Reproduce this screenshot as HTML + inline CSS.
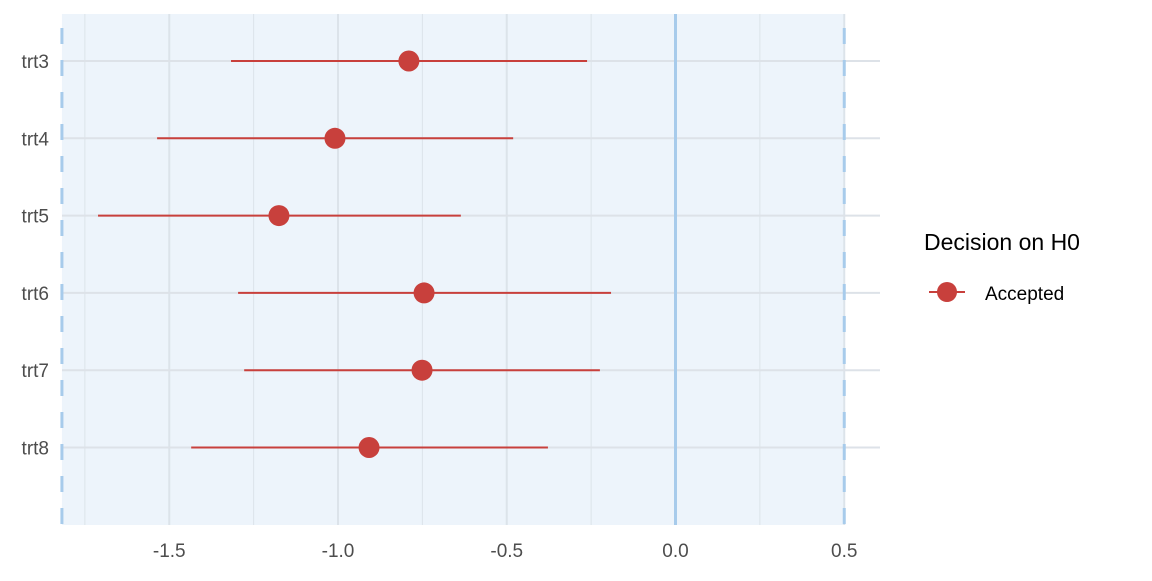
<!DOCTYPE html>
<html><head><meta charset="utf-8"><style>
body{margin:0;background:#fff;font-family:"Liberation Sans",Arial,sans-serif;}
</style></head><body>
<svg id="chart" width="1152" height="576" xmlns="http://www.w3.org/2000/svg">
<g id="grid"></g>
<g id="marks"></g>
<g id="axes"></g>
<g>
<text x="924" y="250" font-size="23" fill="#000">Decision on H0</text>
<line x1="929" y1="292" x2="965" y2="292" stroke="#C8403C" stroke-width="2"/>
<circle cx="947" cy="292" r="10" fill="#C8403C"/>
<text x="985" y="300" font-size="19" fill="#000">Accepted</text>
</g>
</svg>
<script>
const categories=["trt3","trt4","trt5","trt6","trt7","trt8"];
const estimates=[-0.79,-1.009,-1.175,-0.745,-0.751,-0.908];
const lower=[-1.317,-1.536,-1.711,-1.296,-1.278,-1.435];
const upper=[-0.262,-0.481,-0.636,-0.191,-0.224,-0.378];
const xTicks=[-1.5,-1.0,-0.5,0.0,0.5];
const xTickLabels=["-1.5","-1.0","-0.5","0.0","0.5"];
const xMinor=[-1.75,-1.25,-0.75,-0.25,0.25];
const bounds=[-1.818,0.5];

const NS="http://www.w3.org/2000/svg";
const X=v=>675.5+v*337.5;
const Y=i=>61+i*77.3;
function mk(parent,tag,attrs){const e=document.createElementNS(NS,tag);for(const k in attrs)e.setAttribute(k,attrs[k]);document.getElementById(parent).appendChild(e);return e;}
let e;
e=mk("grid","rect",{x:X(bounds[0]),y:14,width:X(bounds[1])-X(bounds[0]),height:511,fill:"#EDF4FB"});


xMinor.forEach(v=>{e=mk("grid","line",{x1:X(v),x2:X(v),y1:14,y2:525,stroke:"#DCE3EA","stroke-width":1});

});
xTicks.forEach(v=>{e=mk("grid","line",{x1:X(v),x2:X(v),y1:14,y2:525,stroke:"#DCE3EA","stroke-width":2});

});
categories.forEach((c,i)=>{e=mk("grid","line",{x1:62,x2:880,y1:Y(i),y2:Y(i),stroke:"#DDE2E8","stroke-width":2});

});
e=mk("grid","line",{x1:X(0),x2:X(0),y1:14,y2:525,stroke:"#A7CBEB","stroke-width":3});


bounds.forEach(v=>{e=mk("grid","line",{x1:X(v),x2:X(v),y1:14,y2:525,stroke:"#A7CBEB","stroke-width":3,"stroke-dasharray":"16,16","stroke-dashoffset":"-14"});

});
categories.forEach((c,i)=>{
e=mk("marks","line",{x1:X(lower[i]),x2:X(upper[i]),y1:Y(i),y2:Y(i),stroke:"#C8403C","stroke-width":2});


e=mk("marks","circle",{cx:X(estimates[i]),cy:Y(i),r:10.5,fill:"#C8403C"});


e=mk("axes","text",{x:49,y:Y(i)+7,"text-anchor":"end","font-size":19,fill:"#4D4D4D"});
e.textContent=c;


});
xTicks.forEach((v,i)=>{e=mk("axes","text",{x:X(v),y:557,"text-anchor":"middle","font-size":19,fill:"#4D4D4D"});
e.textContent=xTickLabels[i];

});
</script>
</body></html>
